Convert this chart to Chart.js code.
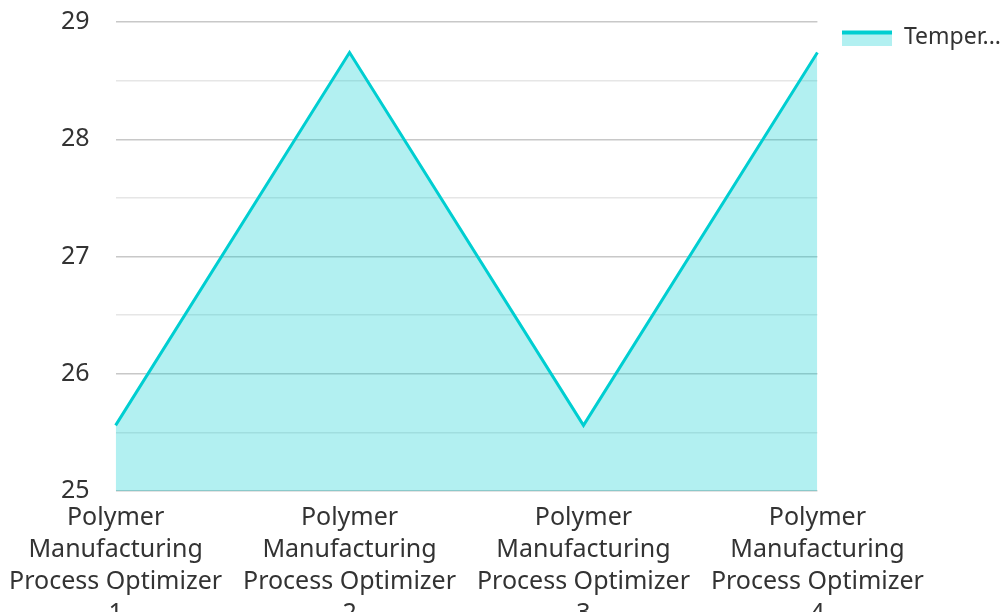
<!DOCTYPE html>
<html>
<head>
<meta charset="utf-8">
<script src="https://cdn.jsdelivr.net/npm/chart.js@4"></script>
<style>
  html, body { margin: 0; padding: 0; background: #fff; overflow: hidden; }
  #wrap { position: relative; width: 1007px; height: 633px; }
</style>
</head>
<body>
<div id="wrap"><canvas id="myChart"></canvas></div>
<script>
var categories = [
  ['Polymer', 'Manufacturing', 'Process Optimizer', '1'],
  ['Polymer', 'Manufacturing', 'Process Optimizer', '2'],
  ['Polymer', 'Manufacturing', 'Process Optimizer', '3'],
  ['Polymer', 'Manufacturing', 'Process Optimizer', '4']
];
var seriesName = 'Temperature';
var temperature = [25.56, 28.74, 25.56, 28.74];

var lineColor = 'rgb(0, 206, 209)';
var fillColor = 'rgba(0, 206, 209, 0.3)';

// legend swatch: thick line on top, light fill under it
var swatch = document.createElement('canvas');
swatch.width = 50;
swatch.height = 16;
var sctx = swatch.getContext('2d');
sctx.fillStyle = fillColor;
sctx.fillRect(0, 2, 50, 14);
sctx.fillStyle = lineColor;
sctx.fillRect(0, 1, 50, 4);

Chart.defaults.font.family = '"Noto Sans", sans-serif';
Chart.defaults.font.size = 25;
Chart.defaults.color = '#333';

var ctx = document.getElementById('myChart');
var myChart = new Chart(ctx, {
  type: 'line',
  data: {
    labels: categories,
    datasets: [{
      label: seriesName,
      data: temperature,
      borderColor: lineColor,
      backgroundColor: fillColor,
      borderWidth: 3,
      fill: 'start',
      tension: 0,
      pointRadius: 0,
      pointHoverRadius: 0
    }]
  },
  options: {
    responsive: true,
    maintainAspectRatio: false,
    animation: false,
    layout: { padding: { top: 1, left: 54, right: -4 } },
    plugins: {
      tooltip: { enabled: false },
      legend: {
        position: 'right',
        align: 'start',
        labels: {
          usePointStyle: true,
          pointStyle: swatch,
          pointStyleWidth: 50,
          padding: 25,
          font: { size: 23 },
          color: '#333',
          generateLabels: function (chart) {
            var items = Chart.defaults.plugins.legend.labels.generateLabels(chart);
            items.forEach(function (it) {
              it.pointStyle = swatch;
              if (it.text.length > 6) it.text = it.text.slice(0, 6) + '...';
            });
            return items;
          }
        }
      }
    },
    scales: {
      x: {
        offset: false,
        grid: { display: false },
        border: { display: false },
        ticks: {
          maxRotation: 0,
          autoSkip: false,
          padding: 3,
          font: { size: 25, lineHeight: 1.28 },
          color: '#333'
        }
      },
      y: {
        min: 25,
        max: 29,
        border: { display: false },
        grid: {
          drawTicks: true,
          tickLength: 19,
          tickColor: 'rgba(0,0,0,0)',
          lineWidth: 1.5,
          color: function (c) {
            return c.tick && Number.isInteger(c.tick.value) ? '#c8c8c8' : '#e6e6e6';
          }
        },
        ticks: {
          stepSize: 0.5,
          padding: 7,
          color: '#333',
          font: { size: 25 },
          callback: function (v) { return Number.isInteger(v) ? v : ''; }
        }
      }
    }
  }
});
</script>
</body>
</html>
